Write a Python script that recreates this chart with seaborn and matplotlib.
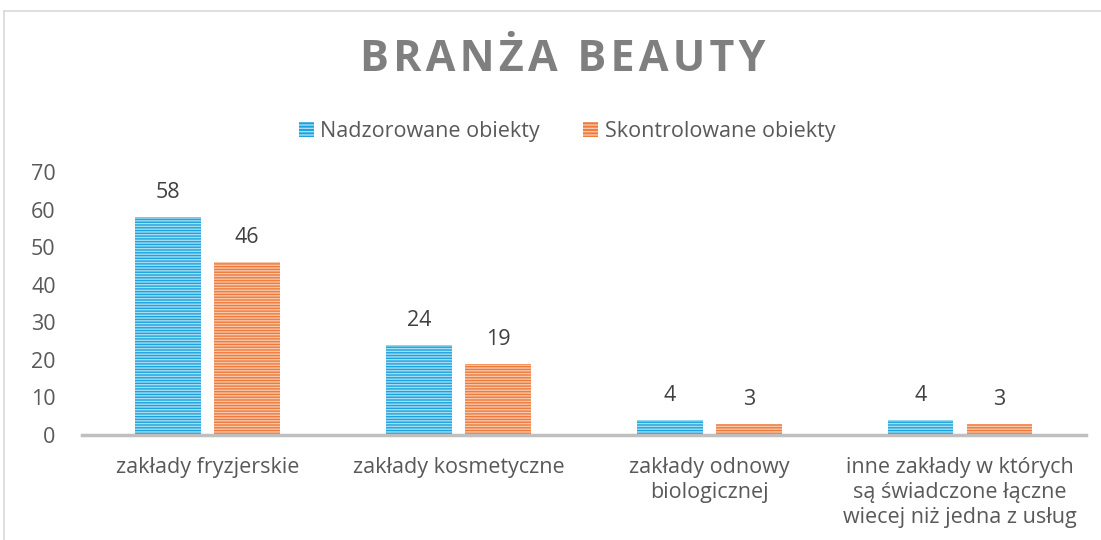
import matplotlib
matplotlib.use("Agg")
import matplotlib.pyplot as plt
import seaborn as sns
import pandas as pd
from matplotlib.lines import Line2D

categories = ["zakłady fryzjerskie", "zakłady kosmetyczne", "zakłady odnowy\nbiologicznej",
              "inne zakłady w których\nsą świadczone łączne\nwiecej niż jedna z usług"]
series_names = ["Nadzorowane obiekty", "Skontrolowane obiekty"]
nadzorowane = [58, 24, 4, 4]
skontrolowane = [46, 19, 3, 3]
yticks = [0, 10, 20, 30, 40, 50, 60, 70]
title = "BRANŻA BEAUTY"

df = pd.DataFrame({
    "kategoria": categories * 2,
    "seria": [series_names[0]] * 4 + [series_names[1]] * 4,
    "wartosc": nadzorowane + skontrolowane,
})

sns.set_theme(style="white")
plt.rcParams['font.family'] = ['Open Sans', 'DejaVu Sans']
plt.rcParams['hatch.linewidth'] = 1.0

colors = ["#1AA3DC", "#EE7A3C"]
hatch_colors = ["#A6DDF4", "#F8C6A8"]
text_col = "#595959"
fs = 15.5

fig = plt.figure(figsize=(11.01, 5.40), dpi=100)
ax = fig.add_axes([0.0745, 0.1944, 0.9115, 0.4870])

sns.barplot(data=df, x="kategoria", y="wartosc", hue="seria", palette=colors,
            width=0.63, gap=0.17, ax=ax, legend=False, saturation=1)

for i, container in enumerate(ax.containers):
    for bar in container:
        bar.set_hatch("------")
        bar.set_edgecolor(hatch_colors[i])
        bar.set_linewidth(0)
    ax.bar_label(container, labels=[str(v) for v in (nadzorowane if i == 0 else skontrolowane)],
                 padding=10, fontsize=fs, color="#404040")

ax.set_ylim(0, 70)
ax.set_yticks(yticks)
ax.set_xlim(-0.5, 3.5)
ax.set_xlabel("")
ax.set_ylabel("")
for s in ["top", "right", "left"]:
    ax.spines[s].set_visible(False)
ax.spines["bottom"].set_color("#BFBFBF")
ax.spines["bottom"].set_linewidth(2.5)
ax.tick_params(axis="y", labelsize=fs, labelcolor=text_col, length=0, pad=19)
ax.tick_params(axis="x", labelsize=fs, labelcolor=text_col, length=0, pad=16)
for lab in ax.get_xticklabels():
    lab.set_linespacing(1.25)

handles = [plt.Rectangle((0, 0), 1, 1, facecolor=colors[i], edgecolor=hatch_colors[i],
                         hatch="-----", linewidth=0) for i in range(2)]
fig.legend(handles, series_names, loc="center", bbox_to_anchor=(0.515, 0.757), ncol=2,
           frameon=False, fontsize=fs, labelcolor=text_col, handlelength=0.7,
           handleheight=0.7, handletextpad=0.3, columnspacing=2.0)

spaced = "\u200a".join(title).replace("\u200a \u200a", "\u2009 ")
fig.text(0.511, 0.889, spaced, ha="center", va="center", fontsize=31,
         fontweight="bold", color="#7F7F7F")

fig.add_artist(Line2D([4/1101, 1], [1 - 11/540, 1 - 11/540], color="#D9D9D9", lw=1.2))
fig.add_artist(Line2D([4/1101, 4/1101], [0, 1 - 11/540], color="#D9D9D9", lw=1.2))

fig.savefig("out.png", dpi=100, facecolor="white")
